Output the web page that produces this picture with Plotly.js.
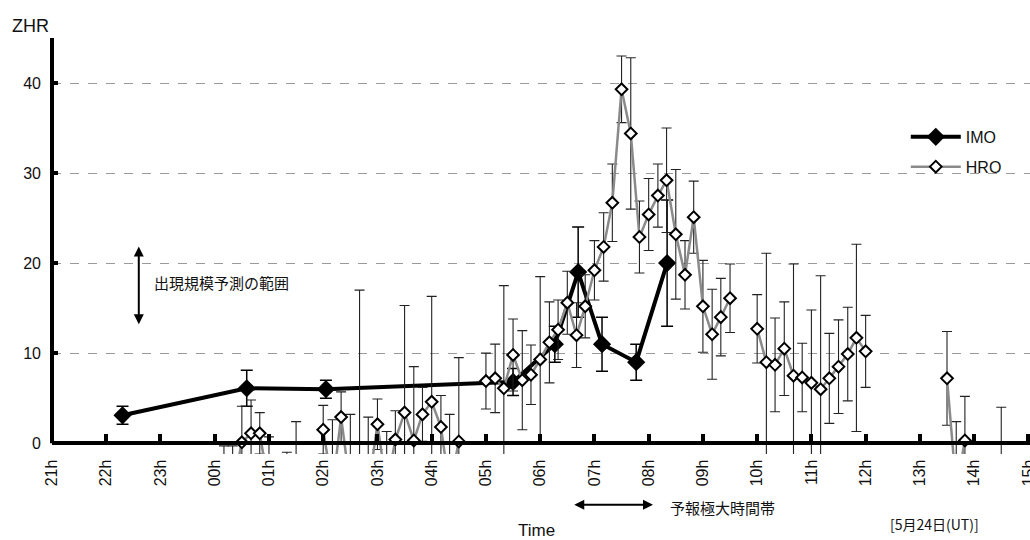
<!DOCTYPE html>
<html><head><meta charset="utf-8">
<script src="https://cdn.plot.ly/plotly-3.0.1.min.js"></script>
<style>body{margin:0;background:#fff}#c{width:1030px;height:540px}</style>
</head><body><div id="c"></div>
<script>
// hours relative to 00h UT on 24 May (negative = 23 May)
const hourTicks  = [-3,-2,-1,0,1,2,3,4,5,6,7,8,9,10,11,12,13,14,15];
const hourLabels = ['21h','22h','23h','00h','01h','02h','03h','04h','05h','06h','07h','08h','09h','10h','11h','12h','13h','14h','15h'];
const zhrTicks   = [0,10,20,30,40];

// IMO
const imoTime = [-1.70, 0.59, 2.05, 5.50, 6.27, 6.70, 7.14, 7.77, 8.34];
const imoZHR  = [3.1, 6.1, 6.0, 6.8, 11.0, 19.0, 11.0, 9.0, 20.0];
const imoErr  = [1.0, 2.0, 1.0, 1.5, 2.0, 5.0, 3.0, 2.0, 7.0];

// HRO (10-min bins; null = no data)
const hroTime = [0.17,0.33,0.50,0.67,0.83,1.00,1.17,1.33,1.50,1.67,
  2.00,2.17,2.33,2.50,2.67,2.83,3.00,3.17,3.33,3.50,3.67,3.83,4.00,4.17,4.33,4.50,4.75,
  5.00,5.17,5.33,5.50,5.67,5.83,6.00,6.17,6.33,6.50,6.67,6.83,7.00,7.17,7.33,7.50,7.67,7.83,
  8.00,8.17,8.33,8.50,8.67,8.83,9.00,9.17,9.33,9.50,9.75,
  10.00,10.17,10.33,10.50,10.67,10.83,11.00,11.17,11.33,11.50,11.67,11.83,12.00,12.75,
  13.50,13.67,13.83,14.17,14.50];
const hroZHR = [-5,-5,0.1,1.1,1.1,-5,-5,-5,-5,null,
  1.5,-5,2.9,-5,-5,-5,2.1,-5,0.4,3.4,0.3,3.2,4.6,1.8,-5,0.2,null,
  6.9,7.2,6.1,9.8,7.0,7.6,9.3,11.2,12.6,15.6,12.0,15.2,19.2,21.8,26.7,39.3,34.4,22.9,
  25.4,27.5,29.2,23.2,18.7,25.1,15.2,12.1,14.0,16.1,null,
  12.7,9.0,8.7,10.5,7.5,7.3,6.7,6.0,7.2,8.5,9.9,11.7,10.2,null,
  7.2,-5,0.3,null,-5];
const hroErr = [4.7,4.7,4.0,3.7,2.3,5.7,3.0,4.0,7.4,0,
  2.7,7.6,2.8,8.2,22.0,7.9,2.8,6.3,3.2,11.9,8.2,3.0,11.7,3.5,8.2,9.3,0,
  3.1,3.8,11.4,4.0,5.5,3.3,9.2,4.5,3.3,3.5,3.6,3.5,3.3,3.8,4.3,3.7,8.4,4.0,
  4.0,3.5,5.8,7.2,3.8,4.0,5.1,5.0,4.3,3.8,0,
  3.8,12.1,5.2,5.2,12.4,3.8,8.1,12.6,5.0,5.2,5.2,10.4,4.0,0,
  5.2,7.4,4.9,0,9.0];

const FONT = 'Liberation Sans, Arial, Noto Sans CJK JP, sans-serif';
const JFONT = 'Noto Sans CJK JP, Liberation Sans, sans-serif';
const yMin = -1.2, yMax = 45;

const traces = [
  {
    name: 'IMO', x: imoTime, y: imoZHR, type: 'scatter', mode: 'lines+markers',
    legendgroup: 'a',
    line: {color: '#000', width: 4},
    marker: {symbol: 'diamond', size: 14, color: '#000'},
    error_y: {type: 'data', array: imoErr, visible: true, color: '#000', thickness: 1.5, width: 6}
  },
  {
    name: 'HRO', x: hroTime, y: hroZHR, type: 'scatter', mode: 'lines+markers',
    legendgroup: 'b', connectgaps: false,
    line: {color: '#8a8a8a', width: 2.5},
    marker: {symbol: 'diamond', size: 9, color: '#fff', line: {color: '#000', width: 2}},
    error_y: {type: 'data', array: hroErr, visible: true, color: '#222', thickness: 1.1, width: 5}
  }
];

const layout = {
  width: 1030, height: 540,
  margin: {l: 52, r: 0, t: 38, b: 86},
  paper_bgcolor: '#fff', plot_bgcolor: '#fff',
  font: {family: FONT, color: '#111', size: 15},
  showlegend: true,
  legend: {x: 0.873, y: 0.803, xanchor: 'left', yanchor: 'top', bgcolor: 'rgba(0,0,0,0)',
           itemwidth: 50,
           font: {family: FONT, size: 16, color: '#111'}, traceorder: 'grouped', tracegroupgap: 6},
  xaxis: {
    range: [-3, 15.03], anchor: 'free', position: (0 - yMin) / (yMax - yMin),
    tickmode: 'array', tickvals: hourTicks, ticktext: hourLabels, tickangle: -90,
    showline: true, linecolor: '#000', linewidth: 4,
    ticks: 'inside', ticklen: 7, tickwidth: 4, tickcolor: '#000',
    ticklabelstandoff: 8, ticklabeloverflow: 'allow',
    showgrid: false, zeroline: false,
    tickfont: {family: FONT, size: 16, color: '#111'}
  },
  yaxis: {
    range: [yMin, yMax],
    tickmode: 'array', tickvals: zhrTicks,
    showline: false, ticks: 'inside', ticklen: 6, tickwidth: 4, tickcolor: '#000',
    ticklabelstandoff: 10,
    showgrid: true, gridcolor: '#9a9a9a', gridwidth: 1, griddash: 'dash',
    zeroline: false,
    tickfont: {family: FONT, size: 16, color: '#111'}
  },
  shapes: [
    {type: 'line', xref: 'paper', x0: 0, x1: 0, yref: 'y', y0: 0, y1: yMax,
     line: {color: '#000', width: 4}}
  ],
  annotations: [
    {text: 'ZHR', xref: 'paper', yref: 'paper', x: -0.022, y: 1.03, showarrow: false,
     xanchor: 'center', yanchor: 'middle', font: {family: FONT, size: 18, color: '#111'}},
    {text: 'Time', xref: 'paper', yref: 'paper', x: 0.495, y: -0.183, showarrow: false,
     xanchor: 'center', yanchor: 'middle', font: {family: FONT, size: 17, color: '#111'}},
    {text: '[5月24日(UT)]', xref: 'paper', yref: 'paper', x: 0.902, y: -0.168, showarrow: false,
     xanchor: 'center', yanchor: 'middle', font: {family: JFONT, size: 14, color: '#111'}},
    {text: '出現規模予測の範囲', xref: 'x', yref: 'y', x: -1.16, y: 17.8, showarrow: false,
     xanchor: 'left', yanchor: 'middle', font: {family: JFONT, size: 15, color: '#111'}},
    {text: '予報極大時間帯', xref: 'x', yref: 'paper', x: 8.36, y: -0.1275, showarrow: false,
     xanchor: 'left', yanchor: 'middle', font: {family: JFONT, size: 15, color: '#111'}},
    {text: '', xref: 'x', yref: 'y', x: -1.4, y: 13.2, axref: 'x', ayref: 'y', ax: -1.4, ay: 22,
     showarrow: true, arrowside: 'end+start', arrowhead: 2, arrowsize: 1, arrowwidth: 2, arrowcolor: '#000'},
    {text: '', xref: 'x', yref: 'paper', x: 8.08, y: -0.122, axref: 'x', ax: 6.6, ayref: 'pixel', ay: 0,
     showarrow: true, arrowside: 'end+start', arrowhead: 2, arrowsize: 1, arrowwidth: 2, arrowcolor: '#000'}
  ]
};

Plotly.newPlot('c', traces, layout, {displayModeBar: false, staticPlot: true});
</script>
</body></html>
